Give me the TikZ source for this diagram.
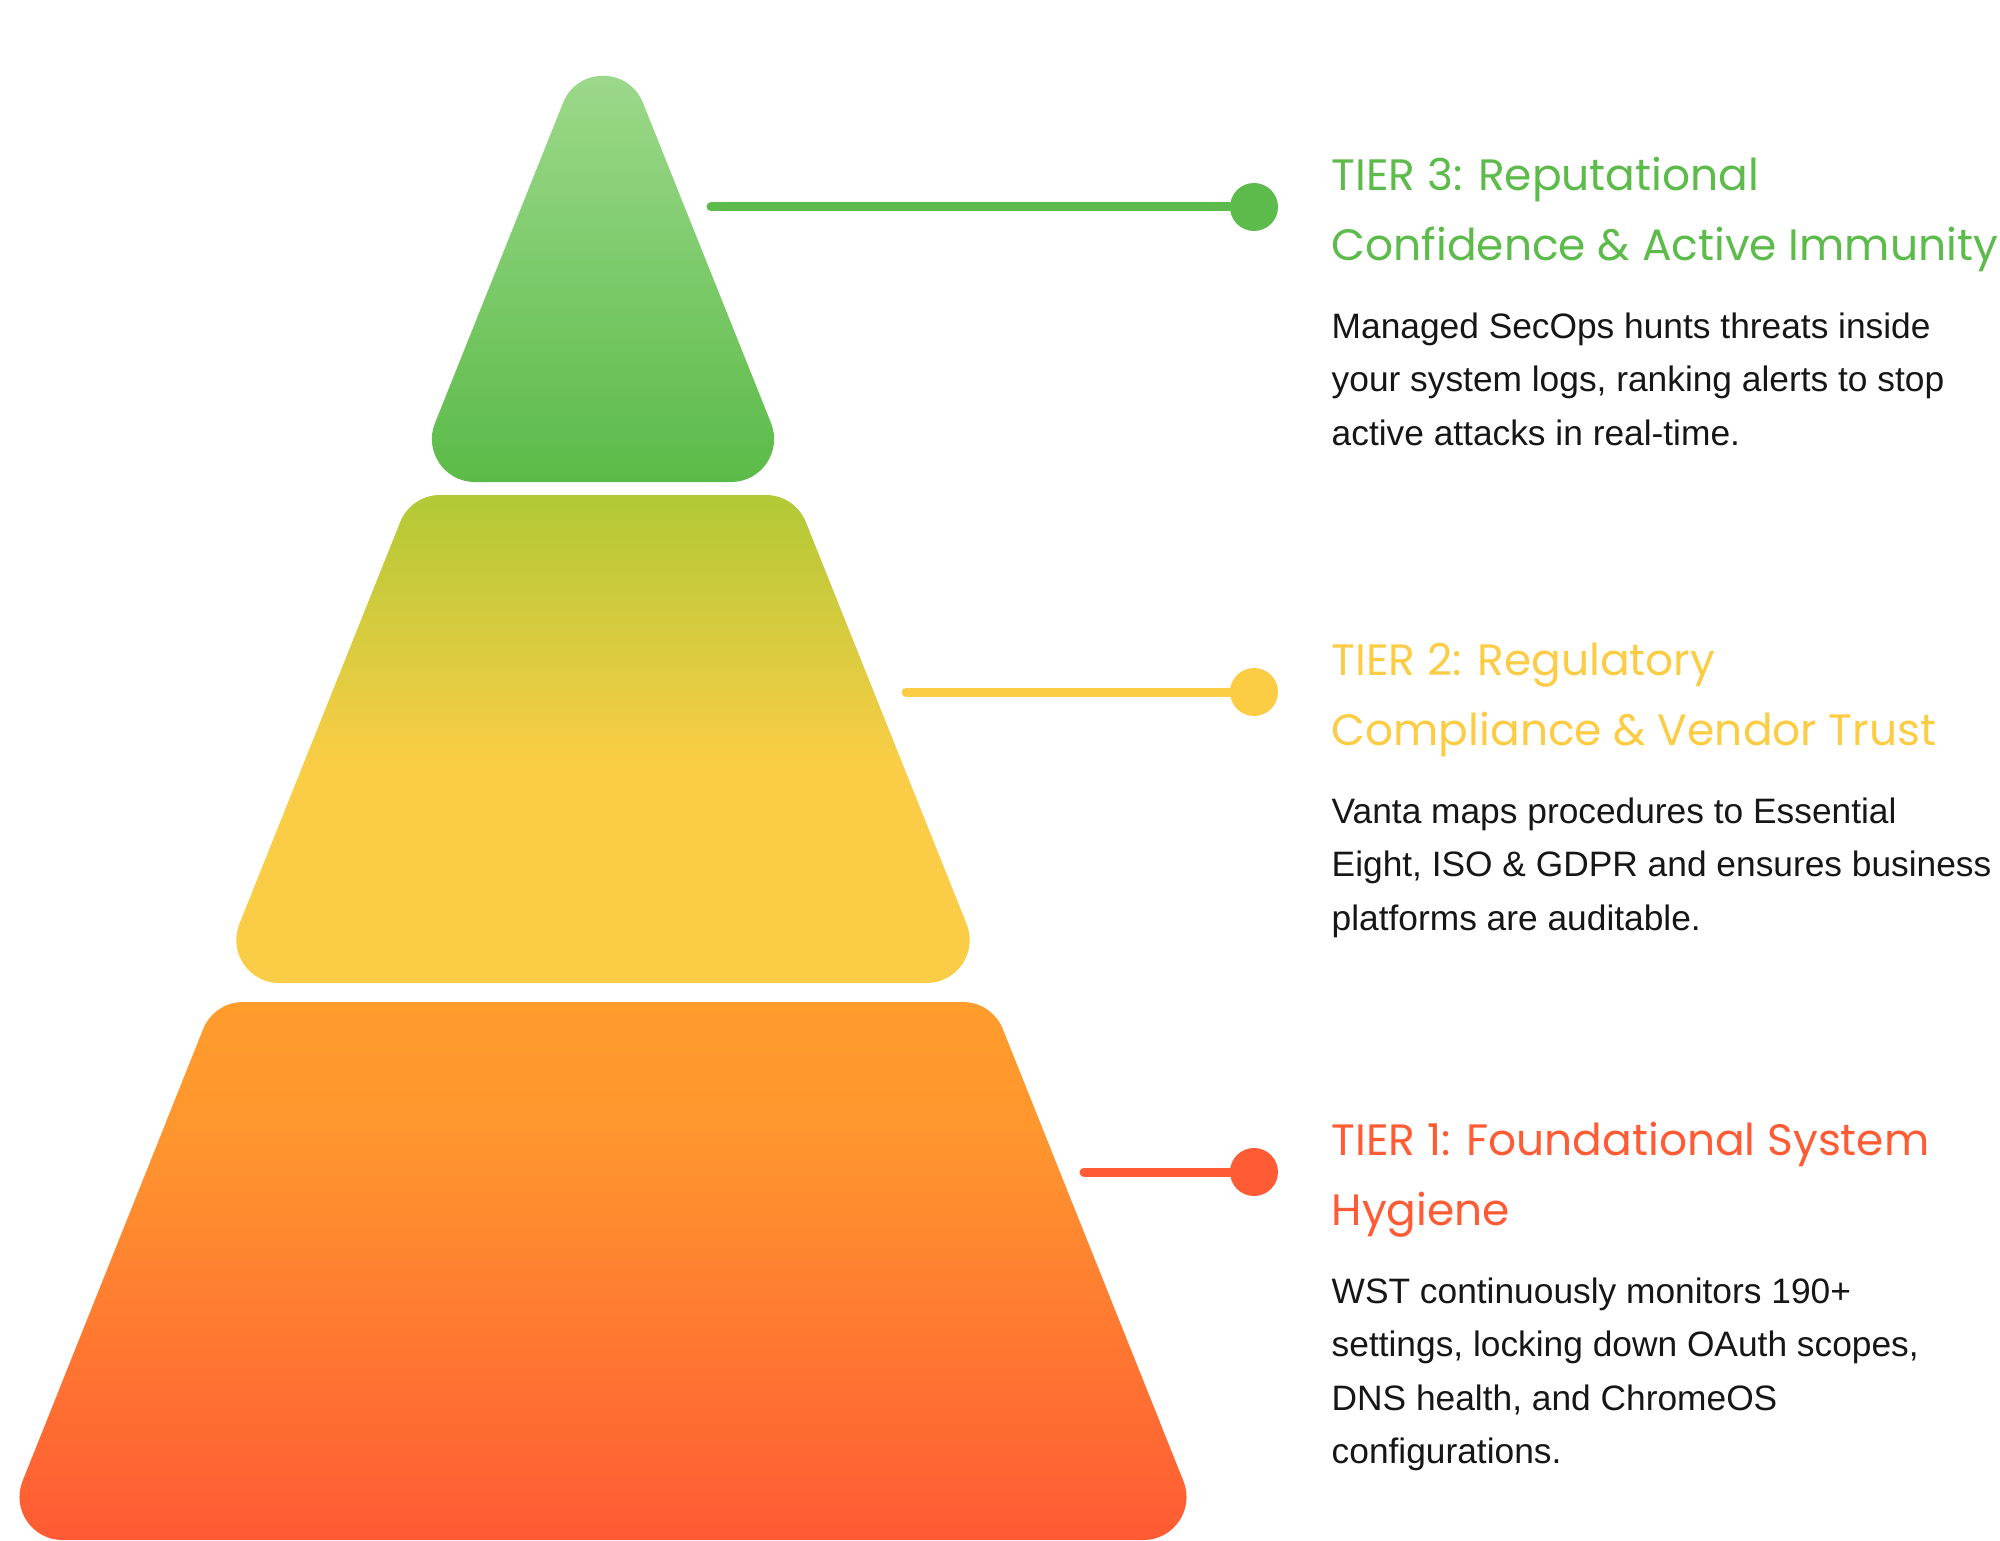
\documentclass[tikz,border=0pt]{standalone}
\usepackage{fontspec}
\usepackage{tikz}
\usetikzlibrary{positioning, calc}
\newfontfamily\titlefont{Poppins}
\newfontfamily\bodyfont{Liberation Sans}
\definecolor{tiergreen}{HTML}{5CBB4A}
\definecolor{tieryellow}{HTML}{FCCC45}
\definecolor{tierred}{HTML}{FF5C35}
\definecolor{bodytext}{HTML}{161616}
\definecolor{greentop}{HTML}{9DD98C}
\definecolor{greenbot}{HTML}{5BBB48}
\definecolor{limetop}{HTML}{B2C936}
\definecolor{yellowmid}{HTML}{FBCD46}
\definecolor{orangetop}{HTML}{FF9C2C}
\definecolor{orangemid}{HTML}{FF952E}
\definecolor{redbot}{HTML}{FF5A34}

% vertical fills, path box maps to 25bp..75bp
\pgfdeclareverticalshading{tierthree}{100bp}{color(0bp)=(greenbot); color(25bp)=(greenbot); color(75bp)=(greentop); color(100bp)=(greentop)}
\pgfdeclareverticalshading{tiertwo}{100bp}{color(0bp)=(yellowmid); color(47bp)=(yellowmid); color(75bp)=(limetop); color(100bp)=(limetop)}
\pgfdeclareverticalshading{tierone}{100bp}{color(0bp)=(redbot); color(25bp)=(redbot); color(62bp)=(orangemid); color(75bp)=(orangetop); color(100bp)=(orangetop)}

% rounded corner at #1 (coming from #2, going to #3), cut #4, control #5
\newcommand{\rcorner}[5]{-- ($(#1)!#4!(#2)$) .. controls ($(#1)!#5!(#2)$) and ($(#1)!#5!(#3)$) .. ($(#1)!#4!(#3)$)}

\begin{document}
\begin{tikzpicture}[
    tiertitle/.style={font=\titlefont\fontsize{12.5}{19.9}\selectfont, anchor=base west, align=left, inner sep=0pt},
    tierbody/.style={font=\bodyfont\fontsize{10.05}{15.25}\selectfont, text=bodytext, anchor=base west, align=left, inner sep=0pt},
    tierdot/.style={circle, fill, inner sep=0pt, minimum size=0.48cm},
    tierlink/.style={line width=0.09cm, line cap=round}
]
\useasboundingbox (0,0) rectangle (20,15.4);

% Pyramid corners
\coordinate (ap) at (6.03,15.37);
\coordinate (t3l) at (4.114,10.58);
\coordinate (t3r) at (7.946,10.58);
\coordinate (t2tl) at (4.11,10.45);
\coordinate (t2tr) at (7.95,10.45);
\coordinate (t2bl) at (2.158,5.57);
\coordinate (t2br) at (9.902,5.57);
\coordinate (t1tl) at (2.14,5.38);
\coordinate (t1tr) at (9.92,5.38);
\coordinate (t1bl) at (-0.01,0);
\coordinate (t1br) at (12.07,0);

% Tier 3 block
\shade[shading=tierthree] ($(t3l)!0.635cm!(t3r)$)
    \rcorner{t3r}{t3l}{ap}{0.635cm}{0.331cm}
    \rcorner{ap}{t3r}{t3l}{1.075cm}{0.687cm}
    \rcorner{t3l}{ap}{t3r}{0.635cm}{0.331cm} -- cycle;

% Tier 2 block
\shade[shading=tiertwo] ($(t2bl)!0.635cm!(t2br)$)
    \rcorner{t2br}{t2bl}{t2tr}{0.635cm}{0.331cm}
    \rcorner{t2tr}{t2br}{t2tl}{0.291cm}{0.115cm}
    \rcorner{t2tl}{t2tr}{t2bl}{0.291cm}{0.115cm}
    \rcorner{t2bl}{t2tl}{t2br}{0.635cm}{0.331cm} -- cycle;

% Tier 1 block
\shade[shading=tierone] ($(t1bl)!0.635cm!(t1br)$)
    \rcorner{t1br}{t1bl}{t1tr}{0.635cm}{0.331cm}
    \rcorner{t1tr}{t1br}{t1tl}{0.291cm}{0.115cm}
    \rcorner{t1tl}{t1tr}{t1bl}{0.291cm}{0.115cm}
    \rcorner{t1bl}{t1tl}{t1br}{0.635cm}{0.331cm} -- cycle;

% Tier 3 label (base anchor sits on the last line)
\node[tierdot, tiergreen] (dot3) at (12.54,13.33) {};
\coordinate (c3) at (7.11,13.33);
\draw[tierlink, tiergreen] (c3) -- (dot3);
\node[tiertitle, text=tiergreen] (title3) at ($(dot3)+(0.77,-0.53)$) {TIER 3: Reputational\\Confidence \& Active Immunity};
\node[tierbody] (body3) at ($(dot3)+(0.77,-2.382)$) {Managed SecOps hunts threats inside\\your system logs, ranking alerts to stop\\active attacks in real-time.};

% Tier 2 label
\node[tierdot, tieryellow] (dot2) at (12.54,8.48) {};
\coordinate (c2) at (9.06,8.48);
\draw[tierlink, tieryellow] (c2) -- (dot2);
\node[tiertitle, text=tieryellow] (title2) at ($(dot2)+(0.77,-0.53)$) {TIER 2: Regulatory\\Compliance \& Vendor Trust};
\node[tierbody] (body2) at ($(dot2)+(0.77,-2.382)$) {Vanta maps procedures to Essential\\Eight, ISO \& GDPR and ensures business\\platforms are auditable.};

% Tier 1 label
\node[tierdot, tierred] (dot1) at (12.54,3.68) {};
\coordinate (c1) at (10.84,3.68);
\draw[tierlink, tierred] (c1) -- (dot1);
\node[tiertitle, text=tierred] (title1) at ($(dot1)+(0.77,-0.53)$) {TIER 1: Foundational System\\Hygiene};
\node[tierbody] (body1) at ($(dot1)+(0.77,-2.918)$) {WST continuously monitors 190+\\settings, locking down OAuth scopes,\\DNS health, and ChromeOS\\configurations.};

\end{tikzpicture}
\end{document}
